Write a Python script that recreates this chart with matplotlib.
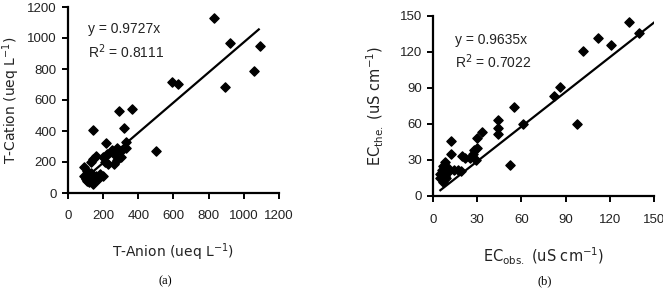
import numpy as np
import matplotlib.pyplot as plt

# (a) T-Anion vs T-Cation, ueq/L
anion = [830, 920, 1090, 1060, 895, 590, 625, 500, 365, 290, 320, 145, 215, 330, 330,
         280, 300, 250, 260, 220, 200, 210, 230, 260, 280, 300, 160, 140, 130, 90, 90,
         100, 110, 120, 140, 150, 170, 180, 200, 130, 100, 110, 160]
cation = [1130, 970, 950, 790, 685, 715, 705, 270, 545, 530, 420, 405, 325, 330, 290,
          290, 270, 280, 250, 250, 230, 200, 190, 190, 210, 230, 240, 220, 200, 165, 110,
          90, 80, 70, 60, 100, 90, 120, 110, 130, 100, 140, 110]
slope_a = 0.9727
fit_a = [120, 1085]

# (b) EC observed vs theoretical, uS/cm
ec_obs = [133, 140, 112, 121, 102, 86, 82, 98, 61, 55, 52, 44, 44, 44, 33, 30, 30, 28,
          27, 29, 22, 25, 20, 19, 17, 14, 12, 12, 10, 8, 7, 5, 5, 7, 9, 10, 6, 8]
ec_the = [145, 136, 132, 126, 121, 91, 83, 60, 60, 74, 26, 63, 57, 52, 53, 48, 40, 38,
          35, 30, 32, 32, 33, 21, 22, 22, 46, 35, 23, 28, 25, 18, 15, 12, 15, 20, 22, 17]
slope_b = 0.9635
fit_b = [5, 150]

tick_font = "Liberation Sans"
ink = "#222222"

fig = plt.figure(figsize=(6.63, 2.99), dpi=100)
W, H = 663, 299

def make_axes(l, r, t, b, xpad):
    ax = fig.add_axes([l / W, 1 - b / H, (r - l) / W, (b - t) / H])
    for s in ["top", "right"]:
        ax.spines[s].set_visible(False)
    for s in ["left", "bottom"]:
        ax.spines[s].set_linewidth(1.6)
    ax.tick_params(direction="out", length=4, width=1.4, labelsize=9.5)
    ax.tick_params(axis="x", pad=xpad)
    ax.tick_params(axis="y", pad=4)
    return ax

def style_ticks(ax):
    for lab in ax.get_xticklabels() + ax.get_yticklabels():
        lab.set_fontfamily(tick_font)
        lab.set_color(ink)

# ── panel (a) ────────────────────────────────────────────────
ax1 = make_axes(68, 279, 7, 193, 8)
ax1.scatter(anion, cation, marker="D", s=22, color="black", zorder=3)
xa = np.array(fit_a)
ax1.plot(xa, slope_a * xa, color="black", lw=1.6)
ax1.set_xlim(0, 1200)
ax1.set_ylim(0, 1200)
ax1.set_xticks(np.arange(0, 1201, 200))
ax1.set_yticks(np.arange(0, 1201, 200))
style_ticks(ax1)
ax1.set_xlabel("T-Anion (ueq L$^{-1}$)", fontsize=10, labelpad=14, color=ink)
ax1.set_ylabel("T-Cation (ueq L$^{-1}$)", fontsize=10, labelpad=4, color=ink)
ax1.text(115, 1055, "y = 0.9727x", fontsize=10, family=tick_font, va="center", color=ink)
ax1.text(115, 910, "R$^2$ = 0.8111", fontsize=10, family=tick_font, va="center", color=ink)

# ── panel (b) ────────────────────────────────────────────────
ax2 = make_axes(433, 654, 16, 196, 9)
ax2.scatter(ec_obs, ec_the, marker="D", s=22, color="black", zorder=3)
xb = np.array(fit_b)
ax2.plot(xb, slope_b * xb, color="black", lw=1.6)
ax2.set_xlim(0, 150)
ax2.set_ylim(0, 150)
ax2.set_xticks(np.arange(0, 151, 30))
ax2.set_yticks(np.arange(0, 151, 30))
style_ticks(ax2)
ax2.set_xlabel("EC$_{\\rm obs.}$ (uS cm$^{-1}$)", fontsize=10.5, labelpad=14, color=ink)
ax2.set_ylabel("EC$_{\\rm the.}$ (uS cm$^{-1}$)", fontsize=10.5, labelpad=10, color=ink)
ax2.text(15, 130, "y = 0.9635x", fontsize=10, family=tick_font, va="center", color=ink)
ax2.text(15, 112, "R$^2$ = 0.7022", fontsize=10, family=tick_font, va="center", color=ink)

fig.text(165 / W, 1 - 281 / H, "(a)", family="Liberation Serif", fontsize=9, ha="center", va="center")
fig.text(545 / W, 1 - 281 / H, "(b)", family="Liberation Serif", fontsize=9, ha="center", va="center")

fig.savefig("out.png", dpi=100)
